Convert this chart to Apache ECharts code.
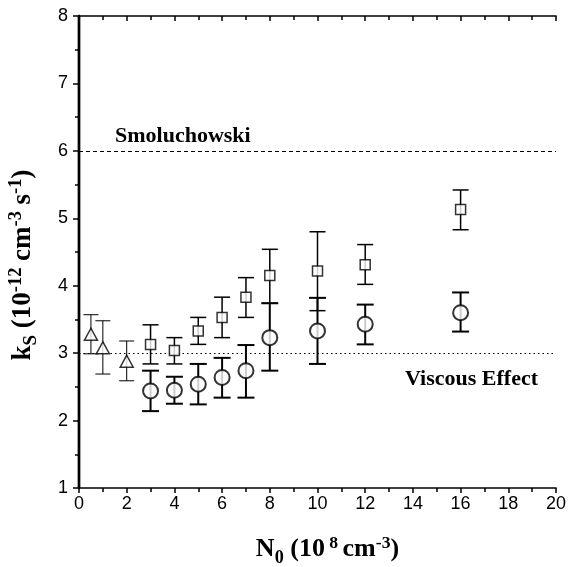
<!DOCTYPE html>
<html>
<head>
<meta charset="utf-8">
<script src="https://cdn.jsdelivr.net/npm/echarts@6/dist/echarts.min.js"></script>
<style>
  html, body {margin: 0; padding: 0; background: #fff;}
  #chart {width: 569px; height: 567px;}
</style>
</head>
<body>
<div id="chart"></div>
<script>
// triangles
const triX = [0.5, 1, 2]
const triY = [3.28, 3.08, 2.88]
const triLo = [2.99, 2.69, 2.59]
const triHi = [3.57, 3.48, 3.18]
// squares
const sqX = [3, 4, 5, 6, 7, 8, 10, 12, 16]
const sqY = [3.13, 3.04, 3.33, 3.53, 3.83, 4.15, 4.22, 4.31, 5.13]
const sqLo = [2.84, 2.84, 3.13, 3.23, 3.53, 3.74, 3.63, 4.02, 4.83]
const sqHi = [3.42, 3.23, 3.53, 3.83, 4.12, 4.54, 4.80, 4.61, 5.42]
// circles
const cirX = [3, 4, 5, 6, 7, 8, 10, 12, 16]
const cirY = [2.44, 2.45, 2.54, 2.64, 2.74, 3.23, 3.33, 3.43, 3.60]
const cirLo = [2.14, 2.25, 2.24, 2.34, 2.34, 2.74, 2.84, 3.13, 3.32]
const cirHi = [2.74, 2.65, 2.84, 2.93, 3.12, 3.74, 3.82, 3.72, 3.90]
// reference lines
const smoluchowski = 6
const viscous = 3

const serif = '"Liberation Serif", "Times New Roman", serif'
const sans = '"Liberation Sans", Arial, sans-serif'

const zip = (a, b) => a.map((v, i) => [v, b[i]])
const bars = (x, lo, hi) => x.map((v, i) => [v, lo[i], hi[i]])

const errorBars = (width, cap) => (params, api) => {
  const x = api.value(0)
  const lo = api.coord([x, api.value(1)])
  const hi = api.coord([x, api.value(2)])
  const st = {stroke: '#000', lineWidth: width}
  return {
    type: 'group',
    children: [
      {type: 'line', shape: {x1: lo[0], y1: lo[1], x2: hi[0], y2: hi[1]}, style: st},
      {type: 'line', shape: {x1: lo[0] - cap, y1: lo[1], x2: lo[0] + cap, y2: lo[1]}, style: st},
      {type: 'line', shape: {x1: hi[0] - cap, y1: hi[1], x2: hi[0] + cap, y2: hi[1]}, style: st}
    ]
  }
}

const chart = echarts.init(document.getElementById('chart'))

const axisLine = (w) => ({show: true, lineStyle: {color: '#000', width: w}})
const titleRich = (size) => ({
  b: {fontFamily: serif, fontWeight: 'bold', fontSize: size, color: '#000'},
  sub: {fontFamily: serif, fontWeight: 'bold', fontSize: size * 0.7, color: '#000', padding: [size * 0.65, 0, 0, 0]},
  sup: {fontFamily: serif, fontWeight: 'bold', fontSize: size * 0.68, color: '#000', padding: [0, 0, size * 0.48, 0]}
})

chart.setOption({
  animation: false,
  grid: {left: 79, right: 13, top: 16, bottom: 79, outerBoundsMode: 'none'},
  xAxis: [
    {
      type: 'value', min: 0, max: 20, interval: 2,
      axisLine: axisLine(1.6),
      axisTick: {length: 5, inside: false, lineStyle: {color: '#000', width: 1.5}},
      minorTick: {show: true, splitNumber: 2, length: 4, lineStyle: {color: '#000', width: 1.5}},
      axisLabel: {color: '#000', fontFamily: sans, fontSize: 18, margin: 7},
      splitLine: {show: false},
      name: '{b|N}{sub|0}{b| (10}{sup| 8 }{b|cm}{sup|-3}{b|)}',
      nameLocation: 'middle', nameGap: 44,
      nameTextStyle: {rich: titleRich(26), padding: [0, 0, 0, 20]}
    },
    {
      type: 'value', position: 'top', min: 0, max: 20, interval: 2,
      axisLine: axisLine(1.6),
      axisTick: {length: 5, inside: true, lineStyle: {color: '#000', width: 1.5}},
      minorTick: {show: true, splitNumber: 2, length: 4, lineStyle: {color: '#000', width: 1.5}},
      axisLabel: {show: false},
      splitLine: {show: false}
    }
  ],
  yAxis: [
    {
      type: 'value', min: 1, max: 8, interval: 1,
      axisLine: axisLine(2.4),
      axisTick: {length: 6, inside: false, lineStyle: {color: '#000', width: 1.5}},
      minorTick: {show: true, splitNumber: 2, length: 4, lineStyle: {color: '#000', width: 1.5}},
      axisLabel: {color: '#000', fontFamily: sans, fontSize: 18, margin: 11},
      splitLine: {show: false},
      name: '{b|k}{sub|S}{b| (10}{sup|-12}{b| cm}{sup|-3}{b| s}{sup|-1}{b|)}',
      nameLocation: 'middle', nameGap: 38, nameRotate: 90,
      nameTextStyle: {rich: titleRich(27), padding: [0, 26, 0, 0]}
    },
    {
      type: 'value', position: 'right', min: 1, max: 8, interval: 1,
      axisLine: axisLine(2.4),
      axisTick: {length: 6, inside: true, lineStyle: {color: '#000', width: 1.5}},
      minorTick: {show: true, splitNumber: 2, length: 4, lineStyle: {color: '#000', width: 1.5}},
      axisLabel: {show: false},
      splitLine: {show: false}
    }
  ],
  series: [
    {
      type: 'line', data: [], silent: true,
      markLine: {
        symbol: 'none', silent: true, label: {show: false},
        data: [
          {yAxis: smoluchowski, lineStyle: {color: '#000', width: 1, type: [4, 3]}},
          {yAxis: viscous, lineStyle: {color: '#000', width: 1.2, type: [1.5, 3]}}
        ]
      }
    },
    {type: 'custom', renderItem: errorBars(1, 7.5), data: bars(triX, triLo, triHi), z: 3},
    {type: 'custom', renderItem: errorBars(1.5, 8), data: bars(sqX, sqLo, sqHi), z: 3},
    {type: 'custom', renderItem: errorBars(2, 8.5), data: bars(cirX, cirLo, cirHi), z: 3},
    {
      type: 'scatter', data: zip(triX, triY), symbol: 'triangle', symbolSize: [13, 12], z: 5,
      itemStyle: {color: '#fff', borderColor: '#000', borderWidth: 1.5}
    },
    {
      type: 'scatter', data: zip(sqX, sqY), symbol: 'rect', symbolSize: 10, z: 5,
      itemStyle: {color: '#fff', borderColor: '#000', borderWidth: 1.5}
    },
    {
      type: 'scatter', data: zip(cirX, cirY), symbol: 'circle', symbolSize: 15, z: 5,
      itemStyle: {color: '#fff', borderColor: '#000', borderWidth: 2}
    }
  ],
  graphic: [
    {
      type: 'text', left: 115, top: 125,
      style: {text: 'Smoluchowski', font: 'bold 22px ' + serif, fill: '#000'}
    },
    {
      type: 'text', left: 405, top: 368,
      style: {text: 'Viscous Effect', font: 'bold 22px ' + serif, fill: '#000'}
    }
  ]
})
</script>
</body>
</html>
